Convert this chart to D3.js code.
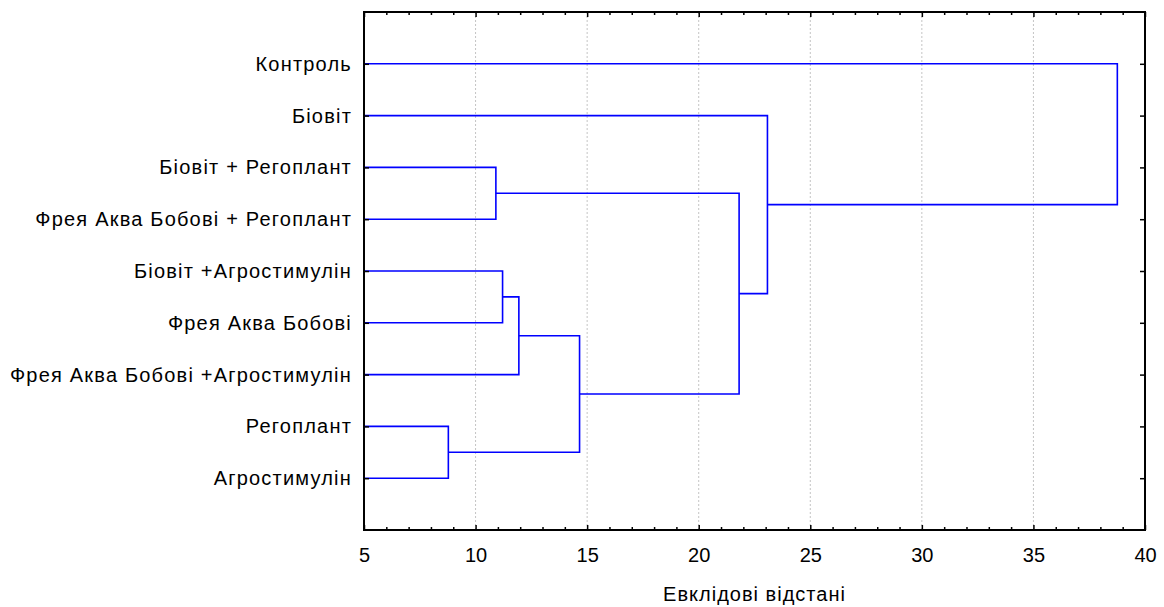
<!DOCTYPE html>
<html>
<head>
<meta charset="utf-8">
<script src="https://cdn.jsdelivr.net/npm/d3@7"></script>
<style>
  body { margin: 0; background: #fff; }
  svg text { font-family: Arial, "Liberation Sans", sans-serif; fill: #000; }
</style>
</head>
<body>
<script>
// leaves, top to bottom, as they appear on the chart
var leaves = [
  "Контроль",
  "Біовіт",
  "Біовіт + Регоплант",
  "Фрея Аква Бобові + Регоплант",
  "Біовіт +Агростимулін",
  "Фрея Аква Бобові",
  "Фрея Аква Бобові +Агростимулін",
  "Регоплант",
  "Агростимулін"
];
// joins: ids 0..8 are leaves, each join gets the next id (9, 10, ...)
var joinLeft  = [7, 2, 4, 11, 12, 10, 1, 0];
var joinRight = [8, 3, 5, 6, 9, 13, 14, 15];
var joinDist  = [8.78, 10.91, 11.21, 11.94, 14.66, 21.81, 23.08, 38.76];

var majorTicks = [5, 10, 15, 20, 25, 30, 35, 40];
var xTitle = "Евклідові відстані";

var width = 1164, height = 607;
var m = { left: 364, right: 19, top: 12, bottom: 77 };

var svg = d3.select("body").append("svg")
    .attr("width", width)
    .attr("height", height);

var x = d3.scaleLinear().domain([5, 40]).range([m.left, width - m.right]);
var y = d3.scalePoint().domain(d3.range(leaves.length)).range([m.top, height - m.bottom]).padding(1);

var x0 = m.left, x1 = width - m.right, y0 = m.top, y1 = height - m.bottom;

// dotted grid
svg.append("g")
  .selectAll("line")
  .data(majorTicks.slice(1, -1))
  .enter().append("line")
    .attr("x1", function(d) { return x(d); })
    .attr("x2", function(d) { return x(d); })
    .attr("y1", y0).attr("y2", y1)
    .attr("stroke", "#c4c4c4")
    .attr("stroke-width", 1)
    .attr("stroke-dasharray", "2,2");

// node positions
var pos = leaves.map(function(d, i) { return { x: x(5), y: y(i) }; });
var links = [];
joinDist.forEach(function(d, k) {
  var a = pos[joinLeft[k]], b = pos[joinRight[k]];
  var jx = x(d);
  links.push("M" + a.x + "," + a.y + "H" + jx + "V" + b.y + "H" + b.x);
  pos.push({ x: jx, y: (a.y + b.y) / 2 });
});

svg.append("g")
  .selectAll("path")
  .data(links)
  .enter().append("path")
    .attr("d", function(d) { return d; })
    .attr("fill", "none")
    .attr("stroke", "#0000ff")
    .attr("stroke-width", 1.6);

var minorTicks = d3.range(5, 41, 1).filter(function(d) { return d % 5 !== 0; });

// bottom axis
svg.append("g").attr("class", "xax").attr("transform", "translate(0," + y1 + ")")
  .call(d3.axisBottom(x).tickValues(majorTicks).tickSize(-5).tickPadding(18).tickFormat(d3.format("d")));
svg.append("g").attr("transform", "translate(0," + y1 + ")")
  .call(d3.axisBottom(x).tickValues(minorTicks).tickSize(-3).tickFormat(""));
// top axis
svg.append("g").attr("transform", "translate(0," + y0 + ")")
  .call(d3.axisTop(x).tickValues(majorTicks).tickSize(-5).tickFormat(""));
svg.append("g").attr("transform", "translate(0," + y0 + ")")
  .call(d3.axisTop(x).tickValues(minorTicks).tickSize(-3).tickFormat(""));
// left axis with labels
svg.append("g").attr("class", "yax").attr("transform", "translate(" + x0 + ",0)")
  .call(d3.axisLeft(y).tickSize(-5).tickPadding(12).tickFormat(function(i) { return leaves[i]; }));
// right axis
svg.append("g").attr("transform", "translate(" + x1 + ",0)")
  .call(d3.axisRight(y).tickSize(-5).tickFormat(""));

svg.selectAll(".domain").remove();
svg.selectAll(".tick line").attr("stroke", "#000").attr("stroke-width", 1.5);
svg.selectAll(".tick text").style("font-size", "20px").style("font-family", "Arial, 'Liberation Sans', sans-serif");
svg.selectAll(".yax .tick text").style("letter-spacing", "1.2px");

// frame
svg.append("rect")
  .attr("x", x0).attr("y", y0)
  .attr("width", x1 - x0).attr("height", y1 - y0)
  .attr("fill", "none")
  .attr("stroke", "#000")
  .attr("stroke-width", 2);

svg.append("text")
  .attr("x", (x0 + x1) / 2)
  .attr("y", 601)
  .attr("text-anchor", "middle")
  .style("font-size", "20px")
  .style("letter-spacing", "1px")
  .text(xTitle);
</script>
</body>
</html>
